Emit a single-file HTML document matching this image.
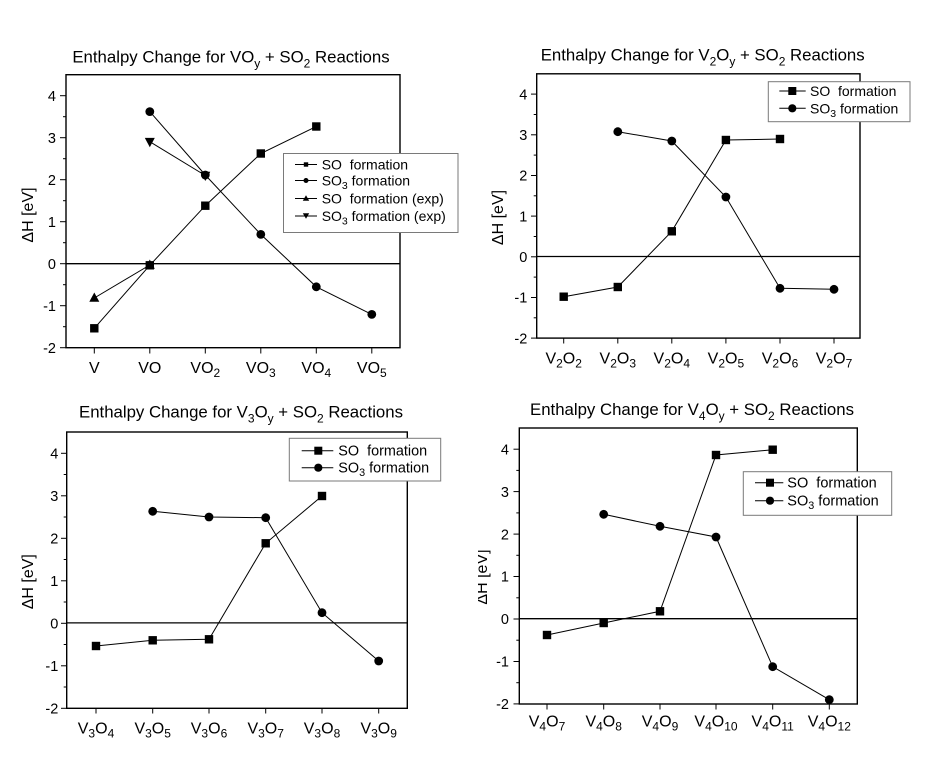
<!DOCTYPE html>
<html><head><meta charset="utf-8"><style>
html,body{margin:0;padding:0;background:#fff;}
svg{display:block;}
text{font-family:"Liberation Sans",Arial,sans-serif;fill:#000;}
</style></head><body>
<svg width="931" height="783" viewBox="0 0 931 783" xmlns="http://www.w3.org/2000/svg">
<defs><clipPath id="c4"><rect x="478" y="400" width="30" height="300"/></clipPath></defs>
<rect width="931" height="783" fill="#fff"/>

<!-- ================= PANEL 1 ================= -->
<text x="231" y="62.7" font-size="16.8" text-anchor="middle">Enthalpy Change for VO<tspan font-size="12" dy="5">y</tspan><tspan dy="-5"> + SO</tspan><tspan font-size="12" dy="5">2</tspan><tspan dy="-5"> Reactions</tspan></text>
<g stroke="#000" stroke-width="1" fill="none">
<line x1="60" y1="95.7" x2="66" y2="95.7"/><line x1="60" y1="137.7" x2="66" y2="137.7"/><line x1="60" y1="179.7" x2="66" y2="179.7"/><line x1="60" y1="221.7" x2="66" y2="221.7"/><line x1="60" y1="263.7" x2="66" y2="263.7"/><line x1="60" y1="305.7" x2="66" y2="305.7"/><line x1="60" y1="347.7" x2="66" y2="347.7"/>
<line x1="63" y1="116.7" x2="66" y2="116.7"/><line x1="63" y1="158.7" x2="66" y2="158.7"/><line x1="63" y1="200.7" x2="66" y2="200.7"/><line x1="63" y1="242.7" x2="66" y2="242.7"/><line x1="63" y1="284.7" x2="66" y2="284.7"/><line x1="63" y1="326.7" x2="66" y2="326.7"/>
<line x1="94.3" y1="348" x2="94.3" y2="353.5"/><line x1="149.8" y1="348" x2="149.8" y2="353.5"/><line x1="205.3" y1="348" x2="205.3" y2="353.5"/><line x1="260.8" y1="348" x2="260.8" y2="353.5"/><line x1="316.3" y1="348" x2="316.3" y2="353.5"/><line x1="371.8" y1="348" x2="371.8" y2="353.5"/>
<line x1="66" y1="263.7" x2="400" y2="263.7" stroke-width="1.3"/>
<polyline points="94.3,328.3 149.8,265.3 205.3,205.7 260.8,153.5 316.3,126.5"/>
<polyline points="149.8,111.6 205.3,175 260.8,234.4 316.3,286.8 371.8,314.4"/>
<polyline points="94.3,298 149.8,265"/>
<polyline points="149.8,141.7 205.3,175.5"/>
<rect x="66" y="74.7" width="334" height="273" stroke-width="1.4"/>
</g>
<g fill="#000">
<rect x="90.1" y="324.1" width="8.4" height="8.4"/><rect x="145.6" y="261.1" width="8.4" height="8.4"/><rect x="201.1" y="201.5" width="8.4" height="8.4"/><rect x="256.6" y="149.3" width="8.4" height="8.4"/><rect x="312.1" y="122.3" width="8.4" height="8.4"/>
<circle cx="149.8" cy="111.6" r="4.4"/><circle cx="205.3" cy="175" r="4.4"/><circle cx="260.8" cy="234.4" r="4.4"/><circle cx="316.3" cy="286.8" r="4.4"/><circle cx="371.8" cy="314.4" r="4.4"/>
<polygon points="94.3,292.5 89.3,301.8 99.3,301.8"/><polygon points="149.8,259.5 144.8,268.8 154.8,268.8"/>
<polygon points="144.8,137.9 154.8,137.9 149.8,147.2"/><polygon points="200.3,171.7 210.3,171.7 205.3,181"/>
</g>
<g font-size="14.5" text-anchor="end">
<text x="56" y="100.9">4</text><text x="56" y="142.9">3</text><text x="56" y="184.9">2</text><text x="56" y="226.9">1</text><text x="56" y="268.9">0</text><text x="56" y="310.9">-1</text><text x="56" y="352.9">-2</text>
</g>
<text transform="translate(33,215) rotate(-90)" font-size="16" text-anchor="middle">ΔH [eV]</text>
<g font-size="16" text-anchor="middle">
<text x="94.3" y="373">V</text>
<text x="149.8" y="373">VO</text>
<text x="205.3" y="373">VO<tspan font-size="12" dy="4">2</tspan></text>
<text x="260.8" y="373">VO<tspan font-size="12" dy="4">3</tspan></text>
<text x="316.3" y="373">VO<tspan font-size="12" dy="4">4</tspan></text>
<text x="371.8" y="373">VO<tspan font-size="12" dy="4">5</tspan></text>
</g>
<rect x="283.5" y="153.5" width="174.5" height="79" fill="#fff" stroke="#7a7a7a" stroke-width="1"/>
<g stroke="#000" stroke-width="1">
<line x1="295" y1="164.5" x2="317" y2="164.5"/><line x1="295" y1="180.5" x2="317" y2="180.5"/><line x1="295" y1="198.5" x2="317" y2="198.5"/><line x1="295" y1="216" x2="317" y2="216"/>
</g>
<g fill="#000">
<rect x="303.8" y="162.3" width="4.4" height="4.4"/><circle cx="306" cy="180.5" r="2.5"/>
<polygon points="306,195.3 302.8,200.7 309.2,200.7"/><polygon points="302.8,213.3 309.2,213.3 306,218.7"/>
</g>
<g font-size="14">
<text x="321.7" y="169.5">SO&#160; formation</text>
<text x="321.7" y="185.5">SO<tspan font-size="10.5" dy="3.5">3</tspan><tspan dy="-3.5"> formation</tspan></text>
<text x="321.7" y="203.5">SO&#160; formation (exp)</text>
<text x="321.7" y="221">SO<tspan font-size="10.5" dy="3.5">3</tspan><tspan dy="-3.5"> formation (exp)</tspan></text>
</g>

<!-- ================= PANEL 2 ================= -->
<text x="702.7" y="60.7" font-size="16.8" text-anchor="middle">Enthalpy Change for V<tspan font-size="12" dy="5">2</tspan><tspan dy="-5">O</tspan><tspan font-size="12" dy="5">y</tspan><tspan dy="-5"> + SO</tspan><tspan font-size="12" dy="5">2</tspan><tspan dy="-5"> Reactions</tspan></text>
<g stroke="#000" stroke-width="1" fill="none">
<line x1="531" y1="94.1" x2="536.7" y2="94.1"/><line x1="531" y1="134.8" x2="536.7" y2="134.8"/><line x1="531" y1="175.5" x2="536.7" y2="175.5"/><line x1="531" y1="216.1" x2="536.7" y2="216.1"/><line x1="531" y1="256.8" x2="536.7" y2="256.8"/><line x1="531" y1="297.5" x2="536.7" y2="297.5"/><line x1="531" y1="338.1" x2="536.7" y2="338.1"/>
<line x1="533.7" y1="114.5" x2="536.7" y2="114.5"/><line x1="533.7" y1="155.1" x2="536.7" y2="155.1"/><line x1="533.7" y1="195.8" x2="536.7" y2="195.8"/><line x1="533.7" y1="236.5" x2="536.7" y2="236.5"/><line x1="533.7" y1="277.1" x2="536.7" y2="277.1"/><line x1="533.7" y1="317.8" x2="536.7" y2="317.8"/>
<line x1="563.7" y1="338" x2="563.7" y2="343.5"/><line x1="617.8" y1="338" x2="617.8" y2="343.5"/><line x1="671.8" y1="338" x2="671.8" y2="343.5"/><line x1="725.9" y1="338" x2="725.9" y2="343.5"/><line x1="780" y1="338" x2="780" y2="343.5"/><line x1="834" y1="338" x2="834" y2="343.5"/>
<line x1="536.7" y1="256.5" x2="860" y2="256.5" stroke-width="1.3"/>
<polyline points="563.7,296.7 617.8,287 671.8,231.3 725.9,140 780,139"/>
<polyline points="617.8,131.7 671.8,141 725.9,197 780,288.3 834,289.3"/>
<rect x="536.7" y="73.8" width="323.3" height="264.3" stroke-width="1.4"/>
</g>
<g fill="#000">
<rect x="559.5" y="292.5" width="8.4" height="8.4"/><rect x="613.6" y="282.8" width="8.4" height="8.4"/><rect x="667.6" y="227.1" width="8.4" height="8.4"/><rect x="721.7" y="135.8" width="8.4" height="8.4"/><rect x="775.8" y="134.8" width="8.4" height="8.4"/>
<circle cx="617.8" cy="131.7" r="4.4"/><circle cx="671.8" cy="141" r="4.4"/><circle cx="725.9" cy="197" r="4.4"/><circle cx="780" cy="288.3" r="4.4"/><circle cx="834" cy="289.3" r="4.4"/>
</g>
<g font-size="14.5" text-anchor="end">
<text x="527.3" y="99.3">4</text><text x="527.3" y="140">3</text><text x="527.3" y="180.7">2</text><text x="527.3" y="221.3">1</text><text x="527.3" y="262">0</text><text x="527.3" y="302.7">-1</text><text x="527.3" y="343.3">-2</text>
</g>
<text transform="translate(503,217.5) rotate(-90)" font-size="16" text-anchor="middle">ΔH [eV]</text>
<g font-size="16" text-anchor="middle">
<text x="563.7" y="363.3">V<tspan font-size="12" dy="4">2</tspan><tspan dy="-4">O</tspan><tspan font-size="12" dy="4">2</tspan></text>
<text x="617.8" y="363.3">V<tspan font-size="12" dy="4">2</tspan><tspan dy="-4">O</tspan><tspan font-size="12" dy="4">3</tspan></text>
<text x="671.8" y="363.3">V<tspan font-size="12" dy="4">2</tspan><tspan dy="-4">O</tspan><tspan font-size="12" dy="4">4</tspan></text>
<text x="725.9" y="363.3">V<tspan font-size="12" dy="4">2</tspan><tspan dy="-4">O</tspan><tspan font-size="12" dy="4">5</tspan></text>
<text x="780" y="363.3">V<tspan font-size="12" dy="4">2</tspan><tspan dy="-4">O</tspan><tspan font-size="12" dy="4">6</tspan></text>
<text x="834" y="363.3">V<tspan font-size="12" dy="4">2</tspan><tspan dy="-4">O</tspan><tspan font-size="12" dy="4">7</tspan></text>
</g>
<rect x="768.3" y="81.7" width="141.7" height="40" fill="#fff" stroke="#7a7a7a" stroke-width="1"/>
<g stroke="#000" stroke-width="1"><line x1="779.3" y1="91" x2="805.7" y2="91"/><line x1="779.3" y1="108.3" x2="805.7" y2="108.3"/></g>
<g fill="#000"><rect x="788.3" y="87" width="8" height="8"/><circle cx="792.3" cy="108.3" r="4.1"/></g>
<g font-size="14">
<text x="810" y="96">SO&#160; formation</text>
<text x="810" y="113.3">SO<tspan font-size="10.5" dy="3.5">3</tspan><tspan dy="-3.5"> formation</tspan></text>
</g>

<!-- ================= PANEL 3 ================= -->
<text x="241" y="417.3" font-size="16.8" text-anchor="middle">Enthalpy Change for V<tspan font-size="12" dy="5">3</tspan><tspan dy="-5">O</tspan><tspan font-size="12" dy="5">y</tspan><tspan dy="-5"> + SO</tspan><tspan font-size="12" dy="5">2</tspan><tspan dy="-5"> Reactions</tspan></text>
<g stroke="#000" stroke-width="1" fill="none">
<line x1="61" y1="453.3" x2="66.7" y2="453.3"/><line x1="61" y1="495.8" x2="66.7" y2="495.8"/><line x1="61" y1="538.3" x2="66.7" y2="538.3"/><line x1="61" y1="580.8" x2="66.7" y2="580.8"/><line x1="61" y1="623.3" x2="66.7" y2="623.3"/><line x1="61" y1="665.8" x2="66.7" y2="665.8"/><line x1="61" y1="708.3" x2="66.7" y2="708.3"/>
<line x1="63.7" y1="474.5" x2="66.7" y2="474.5"/><line x1="63.7" y1="517" x2="66.7" y2="517"/><line x1="63.7" y1="559.5" x2="66.7" y2="559.5"/><line x1="63.7" y1="602" x2="66.7" y2="602"/><line x1="63.7" y1="644.5" x2="66.7" y2="644.5"/><line x1="63.7" y1="687" x2="66.7" y2="687"/>
<line x1="96" y1="708" x2="96" y2="713.5"/><line x1="152.7" y1="708" x2="152.7" y2="713.5"/><line x1="209" y1="708" x2="209" y2="713.5"/><line x1="265.7" y1="708" x2="265.7" y2="713.5"/><line x1="322" y1="708" x2="322" y2="713.5"/><line x1="378.7" y1="708" x2="378.7" y2="713.5"/>
<line x1="66.7" y1="622.9" x2="407.3" y2="622.9" stroke-width="1.3"/>
<polyline points="96,646 152.7,640.3 209,639.3 265.7,543.3 322,496"/>
<polyline points="152.7,511.3 209,517 265.7,517.7 322,612.7 378.7,661"/>
<rect x="66.7" y="432" width="340.6" height="276.3" stroke-width="1.4"/>
</g>
<g fill="#000">
<rect x="91.8" y="641.8" width="8.4" height="8.4"/><rect x="148.5" y="636.1" width="8.4" height="8.4"/><rect x="204.8" y="635.1" width="8.4" height="8.4"/><rect x="261.5" y="539.1" width="8.4" height="8.4"/><rect x="317.8" y="491.8" width="8.4" height="8.4"/>
<circle cx="152.7" cy="511.3" r="4.4"/><circle cx="209" cy="517" r="4.4"/><circle cx="265.7" cy="517.7" r="4.4"/><circle cx="322" cy="612.7" r="4.4"/><circle cx="378.7" cy="661" r="4.4"/>
</g>
<g font-size="14.5" text-anchor="end">
<text x="58.3" y="458.5">4</text><text x="58.3" y="501">3</text><text x="58.3" y="543.5">2</text><text x="58.3" y="586">1</text><text x="58.3" y="628.5">0</text><text x="58.3" y="671">-1</text><text x="58.3" y="713.5">-2</text>
</g>
<text transform="translate(33,581.7) rotate(-90)" font-size="16" text-anchor="middle">ΔH [eV]</text>
<g font-size="16" text-anchor="middle">
<text x="96" y="733.3">V<tspan font-size="12" dy="4">3</tspan><tspan dy="-4">O</tspan><tspan font-size="12" dy="4">4</tspan></text>
<text x="152.7" y="733.3">V<tspan font-size="12" dy="4">3</tspan><tspan dy="-4">O</tspan><tspan font-size="12" dy="4">5</tspan></text>
<text x="209" y="733.3">V<tspan font-size="12" dy="4">3</tspan><tspan dy="-4">O</tspan><tspan font-size="12" dy="4">6</tspan></text>
<text x="265.7" y="733.3">V<tspan font-size="12" dy="4">3</tspan><tspan dy="-4">O</tspan><tspan font-size="12" dy="4">7</tspan></text>
<text x="322" y="733.3">V<tspan font-size="12" dy="4">3</tspan><tspan dy="-4">O</tspan><tspan font-size="12" dy="4">8</tspan></text>
<text x="378.7" y="733.3">V<tspan font-size="12" dy="4">3</tspan><tspan dy="-4">O</tspan><tspan font-size="12" dy="4">9</tspan></text>
</g>
<rect x="289.3" y="438.3" width="151.4" height="42.7" fill="#fff" stroke="#7a7a7a" stroke-width="1"/>
<g stroke="#000" stroke-width="1"><line x1="301.7" y1="450.7" x2="333.3" y2="450.7"/><line x1="301.7" y1="467.7" x2="333.3" y2="467.7"/></g>
<g fill="#000"><rect x="314.3" y="446.7" width="8" height="8"/><circle cx="318.3" cy="467.7" r="4.1"/></g>
<g font-size="14.4">
<text x="338.3" y="455.7">SO&#160; formation</text>
<text x="338.3" y="472.7">SO<tspan font-size="10.8" dy="3.5">3</tspan><tspan dy="-3.5"> formation</tspan></text>
</g>

<!-- ================= PANEL 4 ================= -->
<text x="692" y="415" font-size="16.8" text-anchor="middle">Enthalpy Change for V<tspan font-size="12" dy="5">4</tspan><tspan dy="-5">O</tspan><tspan font-size="12" dy="5">y</tspan><tspan dy="-5"> + SO</tspan><tspan font-size="12" dy="5">2</tspan><tspan dy="-5"> Reactions</tspan></text>
<g stroke="#000" stroke-width="1" fill="none">
<line x1="513.5" y1="449.2" x2="519.3" y2="449.2"/><line x1="513.5" y1="491.6" x2="519.3" y2="491.6"/><line x1="513.5" y1="534.1" x2="519.3" y2="534.1"/><line x1="513.5" y1="576.5" x2="519.3" y2="576.5"/><line x1="513.5" y1="619" x2="519.3" y2="619"/><line x1="513.5" y1="661.5" x2="519.3" y2="661.5"/><line x1="513.5" y1="703.9" x2="519.3" y2="703.9"/>
<line x1="516.3" y1="470.4" x2="519.3" y2="470.4"/><line x1="516.3" y1="512.9" x2="519.3" y2="512.9"/><line x1="516.3" y1="555.3" x2="519.3" y2="555.3"/><line x1="516.3" y1="597.8" x2="519.3" y2="597.8"/><line x1="516.3" y1="640.2" x2="519.3" y2="640.2"/><line x1="516.3" y1="682.7" x2="519.3" y2="682.7"/>
<line x1="547" y1="704" x2="547" y2="709.5"/><line x1="603.7" y1="704" x2="603.7" y2="709.5"/><line x1="660" y1="704" x2="660" y2="709.5"/><line x1="716" y1="704" x2="716" y2="709.5"/><line x1="772.7" y1="704" x2="772.7" y2="709.5"/><line x1="829.3" y1="704" x2="829.3" y2="709.5"/>
<line x1="519.3" y1="618.7" x2="857.3" y2="618.7" stroke-width="1.3"/>
<polyline points="547,635 603.7,623 660,611.3 716,455 772.7,449.7"/>
<polyline points="603.7,514.3 660,526.3 716,537 772.7,666.7 829.3,699.7"/>
<rect x="519.3" y="428" width="338" height="276" stroke-width="1.4"/>
</g>
<g fill="#000">
<rect x="542.8" y="630.8" width="8.4" height="8.4"/><rect x="599.5" y="618.8" width="8.4" height="8.4"/><rect x="655.8" y="607.1" width="8.4" height="8.4"/><rect x="711.8" y="450.8" width="8.4" height="8.4"/><rect x="768.5" y="445.5" width="8.4" height="8.4"/>
<circle cx="603.7" cy="514.3" r="4.4"/><circle cx="660" cy="526.3" r="4.4"/><circle cx="716" cy="537" r="4.4"/><circle cx="772.7" cy="666.7" r="4.4"/><circle cx="829.3" cy="699.7" r="4.4"/>
</g>
<g font-size="14.5" text-anchor="end">
<text x="509" y="454.4">4</text><text x="509" y="496.8">3</text><text x="509" y="539.3">2</text><text x="509" y="581.7">1</text><text x="509" y="624.2">0</text><text x="509" y="666.7">-1</text><text x="509" y="709.1">-2</text>
</g>
<g clip-path="url(#c4)">
<text transform="translate(487,577) rotate(-90)" font-size="16" text-anchor="middle">ΔH [eV]</text>
</g>
<g font-size="16" text-anchor="middle">
<text x="547" y="726.7">V<tspan font-size="12" dy="4">4</tspan><tspan dy="-4">O</tspan><tspan font-size="12" dy="4">7</tspan></text>
<text x="603.7" y="726.7">V<tspan font-size="12" dy="4">4</tspan><tspan dy="-4">O</tspan><tspan font-size="12" dy="4">8</tspan></text>
<text x="660" y="726.7">V<tspan font-size="12" dy="4">4</tspan><tspan dy="-4">O</tspan><tspan font-size="12" dy="4">9</tspan></text>
<text x="716" y="726.7">V<tspan font-size="12" dy="4">4</tspan><tspan dy="-4">O</tspan><tspan font-size="12" dy="4">10</tspan></text>
<text x="772.7" y="726.7">V<tspan font-size="12" dy="4">4</tspan><tspan dy="-4">O</tspan><tspan font-size="12" dy="4">11</tspan></text>
<text x="829.3" y="726.7">V<tspan font-size="12" dy="4">4</tspan><tspan dy="-4">O</tspan><tspan font-size="12" dy="4">12</tspan></text>
</g>
<rect x="743.3" y="471.7" width="148.4" height="43.6" fill="#fff" stroke="#7a7a7a" stroke-width="1"/>
<g stroke="#000" stroke-width="1"><line x1="755" y1="482.7" x2="783.3" y2="482.7"/><line x1="755" y1="500.7" x2="783.3" y2="500.7"/></g>
<g fill="#000"><rect x="766" y="478.7" width="8" height="8"/><circle cx="770" cy="500.7" r="4.1"/></g>
<g font-size="14.5">
<text x="787.3" y="487.7">SO&#160; formation</text>
<text x="787.3" y="505.7">SO<tspan font-size="10.8" dy="3.5">3</tspan><tspan dy="-3.5"> formation</tspan></text>
</g>
</svg>
</body></html>
